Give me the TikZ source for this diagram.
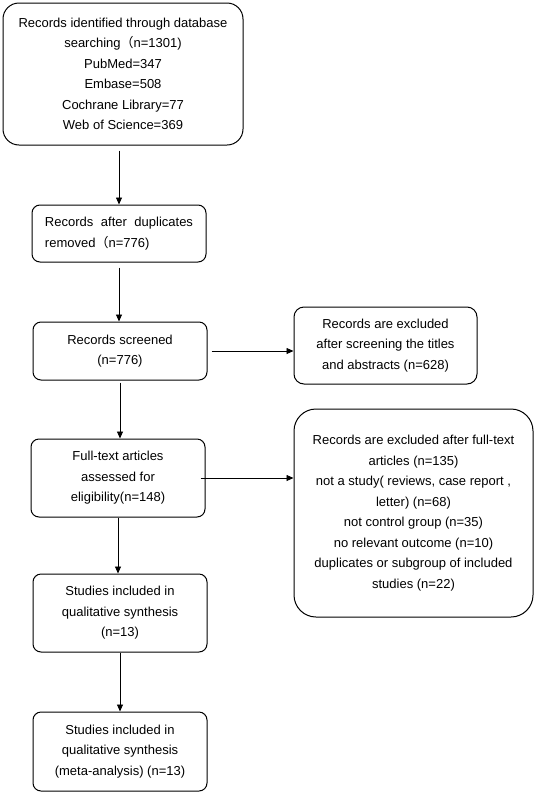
\documentclass[tikz,border=0pt]{standalone}
\usepackage{fontspec}
\setmainfont{Liberation Sans}
\newfontfamily\cjk{Noto Sans CJK SC}
\usetikzlibrary{arrows.meta}
\begin{document}
\begin{tikzpicture}[x=1pt,y=-1pt,
  box/.style={draw, line width=1pt, rounded corners=8pt, align=center, inner sep=0pt,
    font=\fontsize{13}{20.5}\selectfont},
  arr/.style={-{Triangle[length=7pt,width=6pt]}, line width=0.8pt}]
\useasboundingbox (0,0) rectangle (536,793);
\node[box, rounded corners=16pt, minimum width=240pt, minimum height=142pt] (b1) at (123,74)
  {Records identified through database\\searching{\cjk （}n=1301)\\PubMed=347\\Embase=508\\Cochrane Library=77\\Web of Science=369};
\node[box, text width=148pt, align=left, minimum width=174pt, minimum height=57pt] (b2) at (119,233.5)
  {Records\hfill after\hfill duplicates\\removed{\cjk （}n=776)};
\node[box, minimum width=174pt, minimum height=58pt] (b3) at (120,351)
  {Records screened\\(n=776)};
\node[box, rounded corners=10pt, minimum width=183pt, minimum height=77pt] (e1) at (385.5,345.5)
  {Records are excluded\\after screening the titles\\and abstracts (n=628)};
\node[box, minimum width=174pt, minimum height=78pt] (b4) at (118,478)
  {Full-text articles\\assessed for\\eligibility(n=148)};
\node[box, rounded corners=22pt, minimum width=239pt, minimum height=208pt] (e2) at (413.5,513)
  {Records are excluded after full-text\\articles (n=135)\\not a study( reviews, case report ,\\letter) (n=68)\\not control group (n=35)\\no relevant outcome (n=10)\\duplicates or subgroup of included\\studies (n=22)};
\node[box, minimum width=174pt, minimum height=78pt] (b5) at (120,613)
  {Studies included in\\qualitative synthesis\\(n=13)};
\node[box, minimum width=174pt, minimum height=79pt] (b6) at (120,751.5)
  {Studies included in\\qualitative synthesis\\(meta-analysis) (n=13)};
\draw[arr, shorten <=5pt] (b1.south -| b2.north) -- (b2.north);
\draw[arr, shorten <=5pt] (b2.south) -- (b2.south |- b3.north);
\draw[arr, shorten <=2pt] (b3.south) -- (b3.south |- b4.north);
\draw[arr] (b4.south) -- (b4.south |- b5.north);
\draw[arr] (b5.south) -- (b5.south |- b6.north);
\draw[arr, shorten <=4pt] (b3.east) -- (b3.east -| e1.west);
\draw[arr, shorten <=-5pt] (b4.east) -- (b4.east -| e2.west);
\end{tikzpicture}
\end{document}
